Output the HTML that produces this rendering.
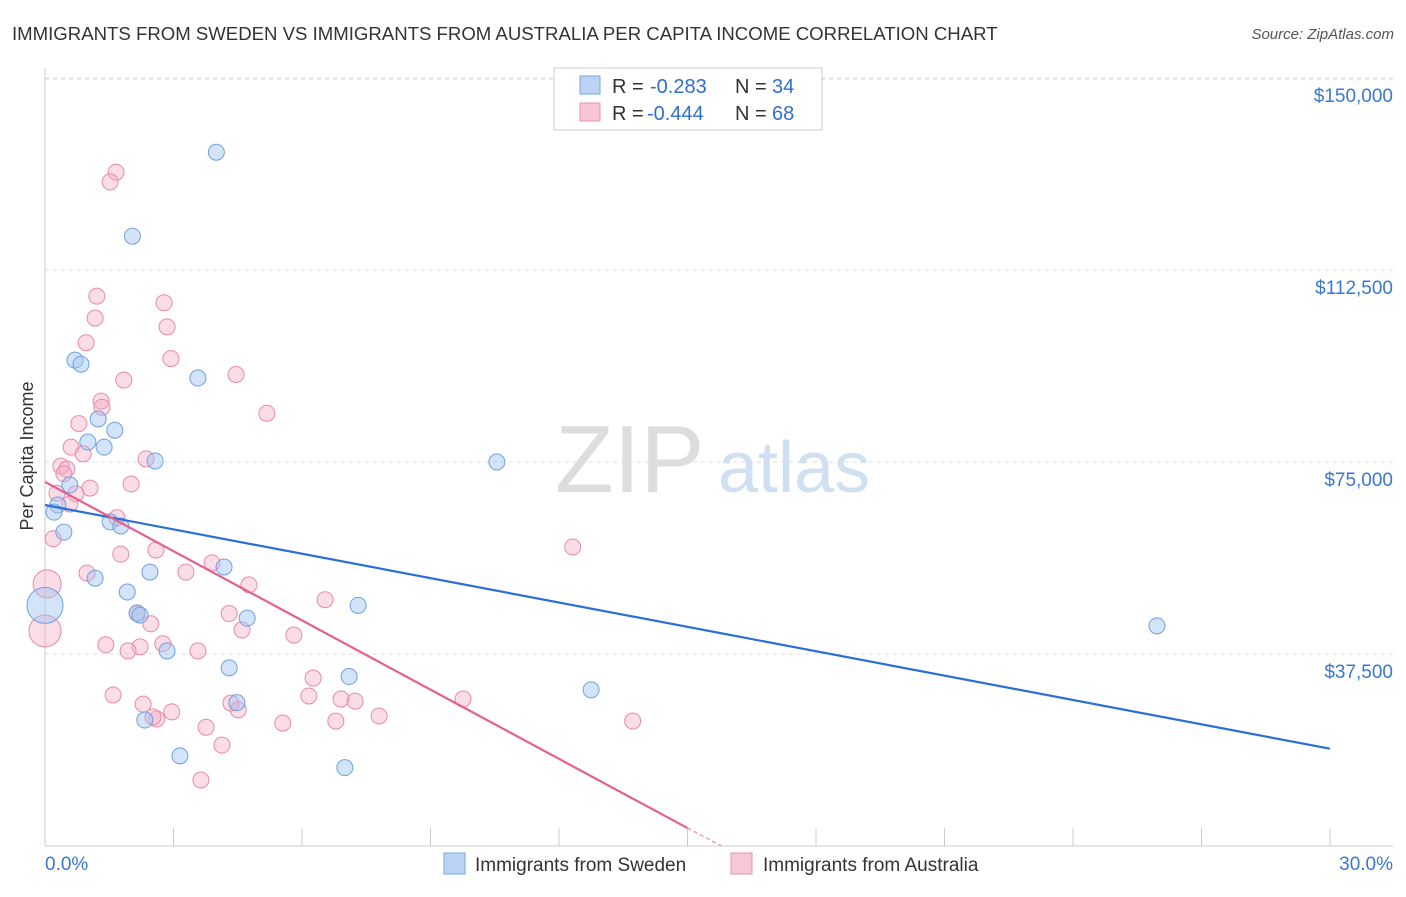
<!DOCTYPE html>
<html><head><meta charset="utf-8"><style>
body{margin:0;background:#fff;font-family:"Liberation Sans",sans-serif;}
svg text{font-family:"Liberation Sans",sans-serif;}
</style></head><body>
<svg id="c" width="1406" height="892">
<text x="12" y="40" font-size="18.6" fill="#333">IMMIGRANTS FROM SWEDEN VS IMMIGRANTS FROM AUSTRALIA PER CAPITA INCOME CORRELATION CHART</text>
<text x="1394" y="39" font-size="15" fill="#555" text-anchor="end" font-style="italic">Source: ZipAtlas.com</text>
<text x="33" y="456" font-size="18" fill="#333" text-anchor="middle" transform="rotate(-90 33 456)">Per Capita Income</text>
<text x="555" y="492" font-size="96" fill="#ddd" font-family="Liberation Serif">ZIP</text>
<text x="718" y="492" font-size="72" fill="#cfe0f3">atlas</text>
<g id="grid"></g><g id="marks"></g><g id="lines"></g>
<g>
<rect x="554" y="68" width="268" height="62" fill="#fff" stroke="#ccc"/>
<rect x="580" y="76" width="20" height="18" fill="#bcd4f4" stroke="#7aa6e0"/>
<rect x="580" y="103" width="20" height="18" fill="#f8c6d4" stroke="#ea93ae"/>
<text x="612" y="93" font-size="20" fill="#333">R =</text>
<text x="650" y="93" font-size="20" fill="#2f6fd0">-0.283</text>
<text x="735" y="93" font-size="20" fill="#333">N =</text>
<text x="772" y="93" font-size="20" fill="#2f6fd0">34</text>
<text x="612" y="120" font-size="20" fill="#333">R =</text>
<text x="647" y="120" font-size="20" fill="#2f6fd0">-0.444</text>
<text x="735" y="120" font-size="20" fill="#333">N =</text>
<text x="772" y="120" font-size="20" fill="#2f6fd0">68</text>
</g>
<g>
<rect x="444" y="853" width="21" height="21" fill="#bcd4f4" stroke="#7aa6e0"/>
<text x="475" y="871" font-size="19" fill="#333">Immigrants from Sweden</text>
<rect x="731" y="853" width="21" height="21" fill="#f8c6d4" stroke="#ea93ae"/>
<text x="763" y="871" font-size="19" fill="#333">Immigrants from Australia</text>
</g>
<text x="45" y="870" font-size="19" fill="#3a78d0">0.0%</text>
<text x="1393" y="870" font-size="19" fill="#3a78d0" text-anchor="end">30.0%</text>
</svg>
<script>
const yTicks=[37500,75000,112500,150000];
const yTickLabels=["$37,500","$75,000","$112,500","$150,000"];
const swedenX=[4.0,2.04,0.7,0.84,3.57,1.24,1.63,1.0,1.38,2.57,10.55,0.58,0.3,0.21,0.44,1.52,1.77,2.45,4.18,1.17,1.92,7.31,0.0,2.15,2.22,4.72,2.85,4.3,7.1,12.75,4.48,2.33,3.15,7.0,25.96];
const swedenY=[135500,119100,94900,94100,91400,83400,81200,78900,77900,75200,75000,70500,66600,65200,61300,63300,62500,53500,54500,52300,49600,47000,47000,45500,45100,44500,38100,34800,33100,30500,28000,24600,17600,15300,43000];
const swedenR=[8,8,8,8,8,8,8,8,8,8,8,8,8,8,8,8,8,8,8,8,8,8,18,8,8,8,8,8,8,8,8,8,8,8,8];
const ausX=[1.66,1.52,1.21,2.78,1.17,2.85,0.96,2.94,1.84,4.46,1.31,1.33,5.18,0.79,0.61,0.89,2.36,0.37,0.51,0.44,2.01,1.05,0.28,0.72,0.58,1.68,0.19,1.77,2.59,3.9,3.29,0.98,4.76,0.05,6.54,4.3,2.15,2.47,4.6,5.81,0.0,1.42,2.75,2.22,1.94,3.57,12.32,6.26,1.59,6.16,6.91,7.24,9.76,4.34,2.29,4.51,2.96,2.61,2.52,7.8,5.55,6.79,13.72,3.76,4.13,3.64];
const ausY=[131600,129700,107400,106100,103100,101400,98300,95200,91000,92100,86900,85700,84500,82500,77900,76600,75600,74200,73600,72700,70700,69900,68900,68800,66800,64100,60000,57000,57800,55300,53500,53300,51000,51200,48100,45400,45400,43400,42200,41200,42000,39300,39500,38900,38100,38100,58400,32800,29500,29300,28700,28300,28700,27900,27700,26600,26200,24800,25200,25400,24000,24400,24400,23200,19700,12900];
const ausR=[8,8,8,8,8,8,8,8,8,8,8,8,8,8,8,8,8,8,8,8,8,8,8,8,8,8,8,8,8,8,8,8,8,14,8,8,8,8,8,8,16,8,8,8,8,8,8,8,8,8,8,8,8,8,8,8,8,8,8,8,8,8,8,8,8,8];
const swedenTrend=[[0,66600],[30,19000]];
const ausTrend=[[0,71100],[15,3500]];
const ausTrendDash=[[15,3500],[15.8,0]];
const X=v=>45+v/30*1285, Y=v=>846-v/37500*192;
const ns="http://www.w3.org/2000/svg";
function mk(t,a,p){const e=document.createElementNS(ns,t);for(const k in a)e.setAttribute(k,a[k]);p.appendChild(e);return e;}
const grid=document.getElementById('grid'),marks=document.getElementById('marks'),lines=document.getElementById('lines');
yTicks.forEach((v,i)=>{
 const l=mk('line',{x1:45,x2:1393,y1:Y(v),y2:Y(v),stroke:'#ddd','stroke-dasharray':'4 4'},grid);
 
 
 const t=mk('text',{x:1393,y:Y(v)+24,'font-size':19,fill:'#3a78d0','text-anchor':'end'},grid);
 t.textContent=yTickLabels[i];
 
 
});
const topLine=mk('line',{x1:45,x2:1393,y1:79,y2:79,stroke:'#ddd','stroke-dasharray':'4 4'},grid);


const ax=mk('line',{x1:45,x2:1393,y1:846,y2:846,stroke:'#ccc'},grid);


const ay=mk('line',{x1:45,x2:45,y1:68,y2:846,stroke:'#ccc'},grid);


for(let i=1;i<=10;i++){const t=mk('line',{x1:X(i*3),x2:X(i*3),y1:828,y2:846,stroke:'#ccc'},grid);
 
 }
ausX.forEach((x,i)=>{const c=mk('circle',{cx:X(x),cy:Y(ausY[i]),r:ausR[i],fill:'rgba(244,170,195,0.4)',stroke:'#e88aa8','stroke-width':1},marks);
 
 });
swedenX.forEach((x,i)=>{const c=mk('circle',{cx:X(x),cy:Y(swedenY[i]),r:swedenR[i],fill:'rgba(160,195,240,0.45)',stroke:'#6fa0e0','stroke-width':1},marks);
 
 });
const bl=mk('line',{x1:X(swedenTrend[0][0]),y1:Y(swedenTrend[0][1]),x2:X(swedenTrend[1][0]),y2:Y(swedenTrend[1][1]),stroke:'#2a6fd6','stroke-width':2.2},lines);


const pl=mk('line',{x1:X(ausTrend[0][0]),y1:Y(ausTrend[0][1]),x2:X(ausTrend[1][0]),y2:Y(ausTrend[1][1]),stroke:'#e5608e','stroke-width':2.2},lines);


const pd=mk('line',{x1:X(ausTrendDash[0][0]),y1:Y(ausTrendDash[0][1]),x2:X(ausTrendDash[1][0]),y2:Y(ausTrendDash[1][1]),stroke:'#e8a0b8','stroke-width':1.5,'stroke-dasharray':'4 3'},lines);


</script>
</body></html>
